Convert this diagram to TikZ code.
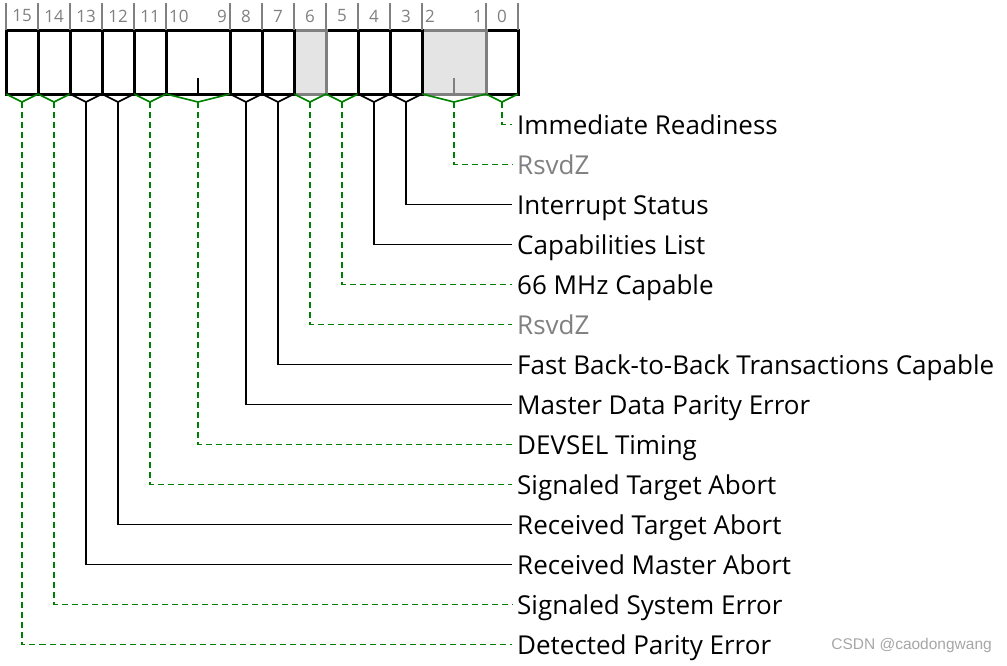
\documentclass[tikz,border=0pt]{standalone}
\usepackage{fontspec}
\setmainfont{Open Sans}
\newfontfamily\wmfont{Liberation Sans}
\usetikzlibrary{positioning}

\definecolor{bitgreen}{RGB}{0,128,0}
\definecolor{rsvdfill}{RGB}{228,228,228}
\definecolor{numgray}{RGB}{128,128,128}

\begin{document}
\begin{tikzpicture}[
                x=1pt, y=-1pt,
                field/.style={draw, line width=3pt, minimum width=32pt, minimum height=64pt,
                  anchor=north west, inner sep=0pt, outer sep=0pt},
                wide/.style={minimum width=64pt},
                rsvd/.style={fill=rsvdfill, draw=numgray},
                tick/.style={numgray, line width=2pt},
                bitnum/.style={text=numgray, inner sep=0pt, font=\fontsize{17}{17}\selectfont},
                desc/.style={anchor=west, inner sep=5pt, text height=19pt, text depth=0pt,
                  font=\fontsize{26}{26}\selectfont},
                bbr/.style={black, line width=1.6pt},
                gbr/.style={bitgreen, line width=1.6pt},
                bln/.style={black, line width=1.4pt},
                gln/.style={bitgreen, line width=1.4pt, dash pattern=on 6pt off 4pt}
              ]
              \useasboundingbox (0,0) rectangle (1007,665);

              % Fields (bit 0 first)
              \node[field] (f0) at (486,30) {};
              \node[field, wide, rsvd] (f21) at (422,30) {};
              \node[field] (f3) at (390,30) {};
              \node[field] (f4) at (358,30) {};
              \node[field] (f5) at (326,30) {};
              \node[field, rsvd] (f6) at (294,30) {};
              \node[field] (f7) at (262,30) {};
              \node[field] (f8) at (230,30) {};
              \node[field, wide] (f109) at (166,30) {};
              \node[field] (f11) at (134,30) {};
              \node[field] (f12) at (102,30) {};
              \node[field] (f13) at (70,30) {};
              \node[field] (f14) at (38,30) {};
              \node[field] (f15) at (6,30) {};
              \draw[line width=2.5pt] (f109.south) -- ++(0,-16);
              \draw[tick] (f21.south) -- ++(0,-16);

              % Bit numbers
              \foreach \f in {15,14,13,12,11,109,8,7,6,5,4,3,21,0}
                \draw[tick] (f\f.north west) -- ++(0,-27);
              \draw[tick] (f0.north east) -- ++(0,-27);
              \foreach \b in {15,14,13,12,11,8,7,6,5,4,3,0}
                \node[bitnum] (n\b) at ({22+32*(15-\b)},16) {\b};
              \node[bitnum, anchor=west] (n10) at (169,16) {10};
              \node[bitnum, anchor=east] (n9) at (227,16) {9};
              \node[bitnum, anchor=west] (n2) at (425,16) {2};
              \node[bitnum, anchor=east] (n1) at (483,16) {1};

              % Labels
              \node[desc] (l0) at (512,124.5) {Immediate Readiness};
              \node[desc, text=numgray] (l21) at (512,164.5) {RsvdZ};
              \node[desc] (l3) at (512,204.5) {Interrupt Status};
              \node[desc] (l4) at (512,244.5) {Capabilities List};
              \node[desc] (l5) at (512,284.5) {66 MHz Capable};
              \node[desc, text=numgray] (l6) at (512,324.5) {RsvdZ};
              \node[desc] (l7) at (512,364.5) {Fast Back-to-Back Transactions Capable};
              \node[desc] (l8) at (512,404.5) {Master Data Parity Error};
              \node[desc] (l109) at (512,444.5) {DEVSEL Timing};
              \node[desc] (l11) at (512,484.5) {Signaled Target Abort};
              \node[desc] (l12) at (512,524.5) {Received Target Abort};
              \node[desc] (l13) at (512,564.5) {Received Master Abort};
              \node[desc] (l14) at (512,604.5) {Signaled System Error};
              \node[desc] (l15) at (512,644.5) {Detected Parity Error};

              % Brackets and leaders
              \foreach \f in {0,5,6,11,14,15} {
                \draw[gbr] (f\f.south west) -- ++(16,8) coordinate (b\f) -- (f\f.south east);
                \draw[gln] (b\f) |- (l\f.west);
              }
              \foreach \f in {21,109} {
                \draw[gbr] (f\f.south west) -- ++(32,8) coordinate (b\f) -- (f\f.south east);
                \draw[gln] (b\f) |- (l\f.west);
              }
              \foreach \f in {3,4,7,8,12,13} {
                \draw[bbr] (f\f.south west) -- ++(16,8) coordinate (b\f) -- (f\f.south east);
                \draw[bln] (b\f) |- (l\f.west);
              }

              \node[anchor=east, inner sep=0pt, text=numgray!70, font=\wmfont\fontsize{15.5}{15.5}\selectfont]
                (wm) at (992,645) {CSDN @caodongwang};
              \end{tikzpicture}
\end{document}
